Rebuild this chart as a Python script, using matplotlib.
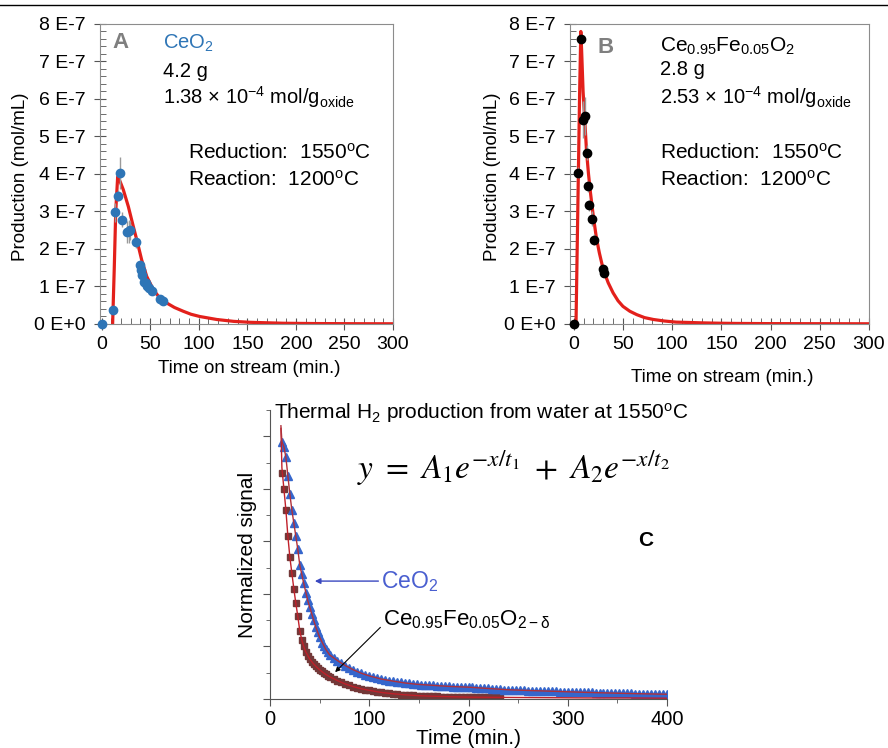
import numpy as np
import matplotlib
matplotlib.use("Agg")
import matplotlib.pyplot as plt
from matplotlib.lines import Line2D
from matplotlib.ticker import MultipleLocator

plt.rcParams['font.family'] = ['Liberation Sans', 'DejaVu Sans']
plt.rcParams['mathtext.fontset'] = 'custom'
plt.rcParams['mathtext.rm'] = 'Liberation Sans'
plt.rcParams['mathtext.it'] = 'Liberation Sans:italic'
plt.rcParams['mathtext.bf'] = 'Liberation Sans:bold'

# ---- panel A : CeO2 (units of 1e-7 mol/mL) ----
a_time = [0, 12, 14, 16.5, 19, 21, 26, 28, 29.5, 35, 39, 40.5, 42, 44, 45.5, 47, 49, 51.5, 60, 63]
a_prod = [0, 0.38, 2.98, 3.42, 4.03, 2.78, 2.45, 2.47, 2.50, 2.18, 1.56, 1.45, 1.30, 1.12, 1.08, 1.02, 0.96, 0.87, 0.66, 0.60]
a_err = [0, 0.03, 0.25, 0.15, 0.42, 0.2, 0.3, 0.3, 0.25, 0.15, 0.12, 0.1, 0.1, 0.1, 0.1, 0.08, 0.08, 0.08, 0.08, 0.08]
a_fit_t = [11.3, 13, 14.5, 16.5, 19, 22.3, 27.5, 32.6, 37, 41.2, 46.4, 53.3, 60, 67, 75, 84, 92, 101, 118.6, 136, 153, 187, 220, 260, 300]
a_fit = [0, 1.5, 3.0, 3.93, 3.8, 3.58, 3.13, 2.6, 2.16, 1.71, 1.27, 0.91, 0.69, 0.56, 0.44, 0.34, 0.26, 0.2, 0.12, 0.07, 0.045, 0.02, 0.012, 0.008, 0.006]

# ---- panel B : Ce0.95Fe0.05O2 ----
b_time = [0, 4.7, 7.4, 9.8, 11.5, 13.2, 14.9, 15.9, 18.3, 20.6, 30, 31.1]
b_prod = [0, 4.03, 7.61, 5.45, 5.54, 4.56, 3.67, 3.16, 2.81, 2.25, 1.47, 1.35]
b_err = [0, 0.15, 0.1, 0.5, 0.5, 0.2, 0.15, 0.15, 0.2, 0.15, 0.1, 0.1]
b_fit_t = [2.3, 4.7, 6, 7.2, 8, 9.5, 11.5, 13, 15, 17, 20, 23, 26, 30, 35, 40, 45, 50, 57, 64, 72, 81, 92, 104, 118, 131, 150, 165, 200, 250, 300]
b_fit = [0, 4.0, 6.2, 7.8, 7.3, 6.2, 5.3, 4.6, 4.0, 3.5, 2.85, 2.3, 1.9, 1.45, 1.1, 0.83, 0.62, 0.47, 0.34, 0.25, 0.17, 0.12, 0.08, 0.05, 0.04, 0.03, 0.02, 0.015, 0.01, 0.008, 0.006]

ytick_vals = [0, 1, 2, 3, 4, 5, 6, 7, 8]
ytick_labels = ['0 E+0', '1 E-7', '2 E-7', '3 E-7', '4 E-7', '5 E-7', '6 E-7', '7 E-7', '8 E-7']

# ---- panel C : normalized signal ----
c_ceo2_t = list(range(12, 61, 2)) + list(range(64, 401, 4))
c_ceo2 = [0.98, 0.96, 0.92, 0.85, 0.78, 0.72, 0.67, 0.62, 0.57, 0.51,
          0.475, 0.44, 0.405, 0.375, 0.35, 0.325, 0.30, 0.275, 0.255, 0.235,
          0.215, 0.20, 0.19, 0.178, 0.168,
          0.157, 0.146, 0.136, 0.127, 0.118, 0.111, 0.104, 0.098, 0.092, 0.088,
          0.084, 0.080, 0.076, 0.073, 0.070, 0.068, 0.065, 0.063, 0.061, 0.059,
          0.058, 0.056, 0.055, 0.054, 0.053, 0.052, 0.051, 0.050, 0.049, 0.048,
          0.047, 0.047, 0.046, 0.045, 0.045,
          0.044, 0.043, 0.042, 0.041, 0.040, 0.039, 0.038, 0.037, 0.036, 0.035,
          0.034, 0.034, 0.033, 0.033, 0.032, 0.032, 0.031, 0.031, 0.030, 0.030,
          0.029, 0.029, 0.028, 0.028, 0.028, 0.027, 0.027, 0.026, 0.026, 0.025,
          0.025, 0.024, 0.024, 0.023, 0.023, 0.022, 0.022, 0.022, 0.021, 0.021,
          0.021, 0.020, 0.020, 0.020, 0.019, 0.019, 0.019, 0.018, 0.018, 0.018]
c_fe_t = list(range(12, 61, 2)) + list(range(64, 233, 4))
c_fe = [0.86, 0.80, 0.72, 0.62, 0.54, 0.48, 0.42, 0.365, 0.315, 0.26,
        0.225, 0.20, 0.18, 0.165, 0.152, 0.142, 0.133, 0.125, 0.118, 0.111,
        0.105, 0.099, 0.094, 0.089, 0.085,
        0.077, 0.070, 0.063, 0.057, 0.052, 0.047, 0.043, 0.039, 0.036, 0.033,
        0.030, 0.028, 0.025, 0.023, 0.021, 0.020, 0.018, 0.017, 0.016, 0.015,
        0.014, 0.013, 0.012, 0.012, 0.011, 0.010, 0.010, 0.009, 0.009, 0.009,
        0.008, 0.008, 0.008, 0.008, 0.007, 0.007, 0.007, 0.007, 0.006, 0.006,
        0.006, 0.006, 0.006]
c_ceo2_fit_t = [11, 12, 14, 16, 18, 20, 22, 24, 26, 28, 30, 34, 38, 42, 46, 50, 56, 60, 68, 76, 84, 92, 100, 112, 124, 136, 148, 160, 180, 200, 240, 280, 320, 360, 400]
c_ceo2_fit = [1.04, 0.98, 0.96, 0.92, 0.85, 0.78, 0.72, 0.67, 0.62, 0.57, 0.51, 0.44, 0.375, 0.325, 0.275, 0.235, 0.19, 0.168, 0.146, 0.127, 0.111, 0.098, 0.088, 0.076, 0.068, 0.061, 0.056, 0.053, 0.048, 0.045, 0.035, 0.030, 0.025, 0.021, 0.018]
c_fe_fit_t = [11, 12, 14, 16, 18, 20, 22, 24, 26, 28, 30, 32, 34, 36, 40, 44, 48, 52, 56, 60, 68, 76, 84, 92, 100, 112, 124, 136, 148, 160, 180, 200, 240, 280, 320, 360, 400]
c_fe_fit = [1.03, 0.88, 0.80, 0.72, 0.62, 0.54, 0.48, 0.42, 0.365, 0.315, 0.26, 0.225, 0.20, 0.18, 0.152, 0.133, 0.118, 0.105, 0.094, 0.085, 0.070, 0.057, 0.047, 0.039, 0.033, 0.025, 0.020, 0.016, 0.013, 0.011, 0.009, 0.007, 0.006, 0.005, 0.004, 0.004, 0.003]

RED = '#e3201b'
GRAY = '#8c8c8c'
BLUE = '#2e75b6'
FS = 13.5
FS_NOTE = 14.5

W, H = 888, 748
fig = plt.figure(figsize=(W / 100, H / 100), dpi=100)
fig.add_artist(Line2D([0, 1], [1 - 5 / H] * 2, color='k', lw=1))


def px_axes(x0, y0, x1, y1):
    return fig.add_axes([x0 / W, 1 - y1 / H, (x1 - x0) / W, (y1 - y0) / H])


def production_axes(ax, xmin):
    ax.set_xlim(xmin, 300)
    ax.set_ylim(0, 8e-7)
    ax.set_xticks([0, 50, 100, 150, 200, 250, 300])
    ax.xaxis.set_minor_locator(MultipleLocator(10))
    ax.set_yticks([v * 1e-7 for v in ytick_vals])
    ax.set_yticklabels(ytick_labels)
    ax.yaxis.set_minor_locator(MultipleLocator(2e-8))
    for s in ax.spines.values():
        s.set_color(GRAY)
    ax.tick_params(axis='y', which='major', direction='inout', length=8, color='#555555', labelsize=14, pad=6)
    ax.tick_params(axis='y', which='minor', direction='in', length=4, color='#555555')
    ax.tick_params(axis='x', which='major', direction='inout', length=8, color='#555555', labelsize=14, pad=5)
    ax.tick_params(axis='x', which='minor', direction='in', length=4, color='#555555')
    ax.set_xlabel('Time on stream (min.)', fontsize=FS)
    ax.set_ylabel('Production (mol/mL)', fontsize=FS)


# panel A
axA = px_axes(100, 24, 393, 324)
axA.plot(a_fit_t, [v * 1e-7 for v in a_fit], color=RED, lw=2.3, zorder=2)
axA.errorbar(a_time, [v * 1e-7 for v in a_prod], yerr=[v * 1e-7 for v in a_err], xerr=2,
             fmt='o', ms=6, color=BLUE, ecolor='#9a9a9a', elinewidth=1, capsize=0, zorder=3, clip_on=False)
production_axes(axA, -1.7)
axA.xaxis.set_label_coords(0.51, -0.12)
axA.yaxis.set_label_coords(-0.242, 0.49)
axA.text(0.044, 0.937, 'A', transform=axA.transAxes, fontsize=16, fontweight='bold', color='#7f7f7f', va='center')
axA.text(0.215, 0.935, 'CeO$_2$', transform=axA.transAxes, fontsize=FS_NOTE, color=BLUE, va='center')
axA.text(0.215, 0.843, '4.2 g', transform=axA.transAxes, fontsize=FS_NOTE, va='center')
axA.text(0.215, 0.757, '1.38 × 10$^{\\mathrm{-4}}$ mol/g$_{\\mathrm{oxide}}$', transform=axA.transAxes, fontsize=FS_NOTE, va='center')
axA.text(0.30, 0.57, 'Reduction:  1550$^{\\mathrm{o}}$C', transform=axA.transAxes, fontsize=15, va='center')
axA.text(0.30, 0.48, 'Reaction:  1200$^{\\mathrm{o}}$C', transform=axA.transAxes, fontsize=15, va='center')

# panel B
axB = px_axes(570, 24, 869, 324)
axB.plot(b_fit_t, [v * 1e-7 for v in b_fit], color=RED, lw=2.3, zorder=2)
axB.errorbar(b_time, [v * 1e-7 for v in b_prod], yerr=[v * 1e-7 for v in b_err], xerr=2,
             fmt='o', ms=6, color='black', ecolor='#9a9a9a', elinewidth=1, capsize=0, zorder=3, clip_on=False)
production_axes(axB, -3.8)
axB.xaxis.set_label_coords(0.51, -0.15)
axB.yaxis.set_label_coords(-0.231, 0.49)
axB.text(0.093, 0.921, 'B', transform=axB.transAxes, fontsize=16, fontweight='bold', color='#7f7f7f', va='center')
axB.text(0.30, 0.924, 'Ce$_{\\mathrm{0.95}}$Fe$_{\\mathrm{0.05}}$O$_2$', transform=axB.transAxes, fontsize=15, va='center')
axB.text(0.30, 0.847, '2.8 g', transform=axB.transAxes, fontsize=FS_NOTE, va='center')
axB.text(0.30, 0.757, '2.53 × 10$^{\\mathrm{-4}}$ mol/g$_{\\mathrm{oxide}}$', transform=axB.transAxes, fontsize=FS_NOTE, va='center')
axB.text(0.30, 0.57, 'Reduction:  1550$^{\\mathrm{o}}$C', transform=axB.transAxes, fontsize=15, va='center')
axB.text(0.30, 0.48, 'Reaction:  1200$^{\\mathrm{o}}$C', transform=axB.transAxes, fontsize=15, va='center')

# panel C
axC = px_axes(270, 410, 667, 699)
axC.plot(c_fe_t, c_fe, 's', ms=5, color='#733838', mec='#733838', zorder=2)
axC.plot(c_ceo2_t, c_ceo2, '^', ms=6, color='#3566cc', mec='#3566cc', zorder=2)
axC.plot(c_fe_fit_t, c_fe_fit, color='#c0202a', lw=1, zorder=3)
axC.plot(c_ceo2_fit_t, c_ceo2_fit, color='#b0303a', lw=1, zorder=3)
axC.set_xlim(0, 400)
axC.set_ylim(0, 1.1)
axC.set_xticks([0, 100, 200, 300, 400])
axC.xaxis.set_minor_locator(MultipleLocator(50))
axC.set_yticks([0, 0.2, 0.4, 0.6, 0.8, 1.0])
axC.set_yticklabels([])
axC.yaxis.set_minor_locator(MultipleLocator(0.1))
axC.spines['top'].set_visible(False)
axC.spines['right'].set_visible(False)
for s in ['left', 'bottom']:
    axC.spines[s].set_color('#555555')
axC.tick_params(axis='both', which='major', direction='out', length=5, color='#555555', labelsize=14.5, pad=3)
axC.tick_params(axis='both', which='minor', direction='out', length=3, color='#555555')
axC.set_xlabel('Time (min.)', fontsize=15)
axC.set_ylabel('Normalized signal', fontsize=15)
axC.xaxis.set_label_coords(0.5, -0.105)
axC.yaxis.set_label_coords(-0.033, 0.5)
axC.text(0.01, 0.99, 'Thermal H$_2$ production from water at 1550$^{\\mathrm{o}}$C', transform=axC.transAxes,
         fontsize=15, va='center')
axC.text(0.218, 0.80, r'$y\ =\ A_1e^{-x/t_1}\ +\ A_2e^{-x/t_2}$', transform=axC.transAxes,
         fontsize=24, va='center', math_fontfamily='stix')
axC.text(0.927, 0.55, 'C', transform=axC.transAxes, fontsize=15, fontweight='bold', va='center')
axC.annotate('CeO$_2$', xy=(0.113, 0.408), xytext=(0.28, 0.408), xycoords='axes fraction',
             textcoords='axes fraction', fontsize=16.5, color='#4a5fd0', va='center',
             arrowprops=dict(arrowstyle='-|>', color='#3a48c0', lw=1, mutation_scale=8, shrinkA=0, shrinkB=0))
axC.annotate('Ce$_{\\mathrm{0.95}}$Fe$_{\\mathrm{0.05}}$O$_{\\mathrm{2-\\delta}}$', xy=(0.164, 0.093),
             xytext=(0.285, 0.273), xycoords='axes fraction', textcoords='axes fraction', fontsize=16,
             va='center', arrowprops=dict(arrowstyle='-|>', color='black', lw=0.8, mutation_scale=7,
                                          shrinkA=0, shrinkB=0, relpos=(0, 0.3)))

fig.savefig('out.png', dpi=100)
